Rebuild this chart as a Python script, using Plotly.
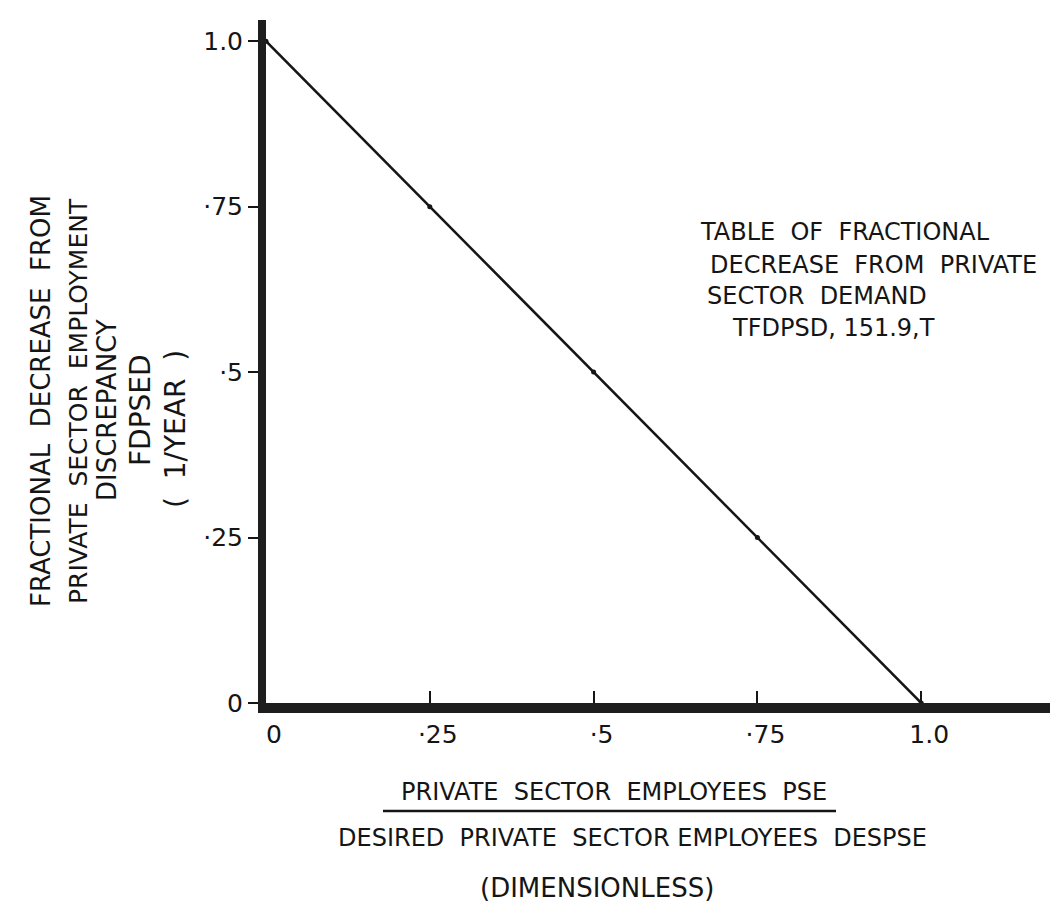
import plotly.graph_objects as go

ratio_pse = [0.0, 0.25, 0.5, 0.75, 1.0]
fdpsed = [1.0, 0.75, 0.5, 0.25, 0.0]

x_tickvals = [0, 0.25, 0.5, 0.75, 1.0]
x_ticktext = ["0", "·25", "·5", "·75", "1.0"]
y_tickvals = [0, 0.25, 0.5, 0.75, 1.0]
y_ticktext = ["0", "·25", "·5", "·75", "1.0"]

W, H = 1058, 911
L, R, T, B = 258, 0, 12, 216
FONT = "DejaVu Sans"
INK = "#151515"


def px(x):
    # pixel column -> paper x
    return (x - L) / (W - L - R)


def py(y):
    # pixel row -> paper y
    return (H - B - y) / (H - B - T)


fig = go.Figure()
fig.add_trace(go.Scatter(
    x=ratio_pse, y=fdpsed, mode="lines+markers",
    line=dict(color=INK, width=2.5),
    marker=dict(color=INK, size=5),
    cliponaxis=False, hoverinfo="skip", showlegend=False,
))

ann = []
# y axis title, hand lettered in five vertical lines
ytitle = [
    ("FRACTIONAL  DECREASE  FROM", 33, 393, 26),
    ("PRIVATE  SECTOR  EMPLOYMENT", 70, 393, 25),
    ("DISCREPANCY", 99, 402, 26),
    ("FDPSED", 132, 402, 28),
    ("(  1/YEAR  )", 168, 421, 28),
]
for txt, cx, cy, fs in ytitle:
    ann.append(dict(text=txt, x=px(cx), y=py(cy), xref="paper", yref="paper",
                    textangle=-90, showarrow=False, xanchor="center", yanchor="middle",
                    font=dict(family=FONT, size=fs, color=INK)))

# x axis title
xtitle = [
    ("PRIVATE  SECTOR  EMPLOYEES  PSE", 606, 784, 24),
    ("DESIRED  PRIVATE  SECTOR EMPLOYEES  DESPSE", 624, 830, 24),
    ("(DIMENSIONLESS)", 589, 880, 26),
]
for txt, cx, cy, fs in xtitle:
    ann.append(dict(text=txt, x=px(cx), y=py(cy), xref="paper", yref="paper",
                    showarrow=False, xanchor="center", yanchor="middle",
                    font=dict(family=FONT, size=fs, color=INK)))

# table label on the right
label = [
    ("TABLE  OF  FRACTIONAL", 690, 224),
    ("DECREASE  FROM  PRIVATE", 700, 257),
    ("SECTOR  DEMAND", 697, 288),
    ("TFDPSD, 151.9,T", 722, 320),
]
for txt, lx, cy in label:
    ann.append(dict(text=txt, x=px(lx), y=py(cy), xref="paper", yref="paper",
                    showarrow=False, xanchor="left", yanchor="middle",
                    font=dict(family=FONT, size=24, color=INK)))

fig.update_layout(
    width=W, height=H,
    margin=dict(l=L, r=R, t=T, b=B),
    paper_bgcolor="white", plot_bgcolor="white",
    annotations=ann,
    shapes=[dict(type="line", xref="paper", yref="paper",
                 x0=px(375), x1=px(828), y0=py(803), y1=py(803),
                 line=dict(color=INK, width=2.5))],
    xaxis=dict(range=[0, 1.221], tickvals=x_tickvals, ticktext=x_ticktext,
               showgrid=False, zeroline=False, showline=True, linewidth=10, linecolor="#1e1e1e",
               ticks="inside", ticklen=12, tickwidth=2, tickcolor=INK, ticklabelshift=8,
               tickfont=dict(family=FONT, size=25, color=INK)),
    yaxis=dict(range=[0, 1.032], tickvals=y_tickvals, ticktext=y_ticktext,
               showgrid=False, zeroline=False, showline=True, linewidth=8, linecolor="#1e1e1e",
               ticks="outside", ticklen=10, tickwidth=2, tickcolor=INK,
               tickfont=dict(family=FONT, size=25, color=INK)),
)

fig.write_html("out.html")
